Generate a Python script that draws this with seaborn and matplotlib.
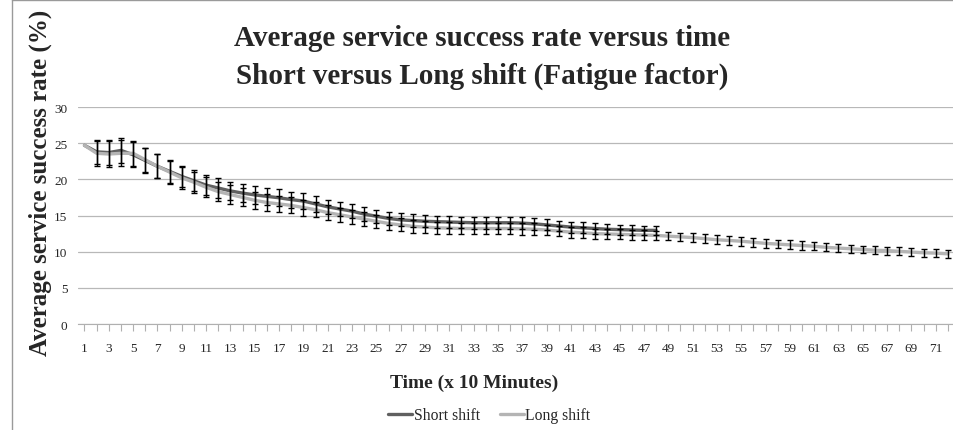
import matplotlib
matplotlib.use("Agg")
import matplotlib.pyplot as plt
from matplotlib.lines import Line2D
import numpy as np
import pandas as pd
import seaborn as sns

# Data
short_shift = [24.7, 23.8, 23.7, 24.0, 23.4, 22.6, 21.8, 21.1, 20.4, 19.8,
               19.2, 18.8, 18.4, 18.1, 17.85, 17.65, 17.45, 17.2, 17.0, 16.6,
               16.2, 15.9, 15.6, 15.2, 14.9, 14.6, 14.4, 14.3, 14.2, 14.15,
               14.1, 14.05, 14.0, 14.0, 14.0, 14.0, 13.95, 13.85, 13.7, 13.55,
               13.4, 13.3, 13.2, 13.1, 13.05, 13.0, 12.95, 12.95]
short_err = [0.0, 1.7, 1.75, 1.75, 1.7, 1.7, 1.65, 1.6, 1.5, 1.45,
             1.4, 1.35, 1.3, 1.25, 1.2, 1.2, 1.15, 1.1, 1.1, 1.05,
             1.0, 1.0, 0.95, 0.95, 0.9, 0.9, 0.9, 0.85, 0.85, 0.85,
             0.85, 0.8, 0.8, 0.8, 0.8, 0.8, 0.8, 0.8, 0.75, 0.75,
             0.75, 0.75, 0.7, 0.7, 0.7, 0.7, 0.65, 0.65]

long_shift = [24.7, 23.6, 23.5, 23.6, 23.6, 22.7, 21.8, 21.0, 20.2, 19.6,
              18.9, 18.3, 17.9, 17.5, 17.1, 16.8, 16.6, 16.4, 16.1, 15.8,
              15.4, 15.1, 14.8, 14.5, 14.2, 13.9, 13.7, 13.5, 13.4, 13.3,
              13.25, 13.2, 13.2, 13.2, 13.2, 13.2, 13.15, 13.1, 13.0, 12.85,
              12.7, 12.6, 12.5, 12.45, 12.4, 12.35, 12.3, 12.25, 12.15, 12.05,
              11.95, 11.8, 11.65, 11.55, 11.45, 11.3, 11.15, 11.05, 10.95, 10.85,
              10.75, 10.6, 10.5, 10.4, 10.3, 10.2, 10.15, 10.05, 9.95, 9.85,
              9.8, 9.7]
long_err = [0.0, 1.75, 1.8, 1.8, 1.75, 1.7, 1.65, 1.6, 1.5, 1.45,
            1.4, 1.35, 1.3, 1.25, 1.2, 1.2, 1.15, 1.1, 1.1, 1.05,
            1.0, 1.0, 0.95, 0.95, 0.9, 0.9, 0.9, 0.85, 0.85, 0.85,
            0.85, 0.8, 0.8, 0.8, 0.8, 0.8, 0.8, 0.8, 0.75, 0.75,
            0.75, 0.75, 0.7, 0.7, 0.7, 0.7, 0.65, 0.65, 0.6, 0.6,
            0.6, 0.6, 0.6, 0.6, 0.6, 0.6, 0.6, 0.6, 0.6, 0.6,
            0.55, 0.55, 0.55, 0.55, 0.55, 0.55, 0.55, 0.55, 0.55, 0.55,
            0.55, 0.55]

time_short = list(range(1, len(short_shift) + 1))
time_long = list(range(1, len(long_shift) + 1))

df = pd.concat([
    pd.DataFrame({"time": time_short, "rate": short_shift, "err": short_err, "shift": "Short shift"}),
    pd.DataFrame({"time": time_long, "rate": long_shift, "err": long_err, "shift": "Long shift"}),
])

sns.set_style("white")
plt.rcParams["font.family"] = ["Liberation Serif", "DejaVu Serif"]

fig = plt.figure(figsize=(9.54, 4.31), dpi=100)
ax = fig.add_axes([0.0822, 0.2459, 0.9178, 0.5035])

palette = {"Short shift": "#606060", "Long shift": "#b4b4b4"}
sns.lineplot(data=df, x="time", y="rate", hue="shift", palette=palette,
             linewidth=2.4, ax=ax, legend=False, zorder=3)

for name in ["Short shift", "Long shift"]:
    sub = df[(df["shift"] == name) & (df["err"] > 0)]
    ax.errorbar(sub["time"], sub["rate"], yerr=sub["err"], fmt="none",
                ecolor="black", elinewidth=1.0, capsize=2.5, capthick=1.0, zorder=4)

ax.set_xlim(0.5, 72.5)
ax.set_ylim(0, 30)
ax.set_yticks(range(0, 31, 5))
ax.set_xticks(range(1, 73))
ax.set_xticklabels([str(i) if i % 2 == 1 else "" for i in range(1, 73)])
ax.yaxis.grid(True, color="#b8b8b8", linewidth=0.9)
ax.set_axisbelow(True)
for side in ["left", "right", "top"]:
    ax.spines[side].set_visible(False)
ax.spines["bottom"].set_color("#b0b0b0")
ax.tick_params(axis="x", length=5, width=0.8, color="#b0b0b0", direction="out",
               labelsize=9.5, pad=8, bottom=True)
ax.tick_params(axis="y", length=0, labelsize=9.5, pad=8)
ax.set_xlabel("")
ax.set_ylabel("")

fig.text(0.505, 1 - 39 / 431, "Average service success rate versus time",
         ha="center", va="center", fontsize=21, fontweight="bold")
fig.text(0.505, 1 - 76 / 431, "Short versus Long shift (Fatigue factor)",
         ha="center", va="center", fontsize=21, fontweight="bold")
fig.text(40 / 954, 1 - 183 / 431, "Average service success rate (%)",
         ha="center", va="center", rotation=90, fontsize=18, fontweight="bold")
fig.text(0.4975, 1 - 383 / 431, "Time (x 10 Minutes)",
         ha="center", va="center", fontsize=14, fontweight="bold")

handles = [Line2D([0], [0], color=palette["Short shift"], linewidth=2.4),
           Line2D([0], [0], color=palette["Long shift"], linewidth=2.4)]
fig.legend(handles, ["Short shift", "Long shift"], loc="center",
           bbox_to_anchor=(0.513, 1 - 416 / 431), ncol=2, frameon=False,
           fontsize=11.3, handlelength=1.5, handletextpad=0.1, columnspacing=1.3)

# chart area border
fig.add_artist(Line2D([12 / 954, 12 / 954], [0, 1], transform=fig.transFigure,
                      color="#9a9a9a", linewidth=1))
fig.add_artist(Line2D([12 / 954, 1], [1 - 1 / 431, 1 - 1 / 431], transform=fig.transFigure,
                      color="#9a9a9a", linewidth=1))

fig.savefig("out.png", dpi=100)
